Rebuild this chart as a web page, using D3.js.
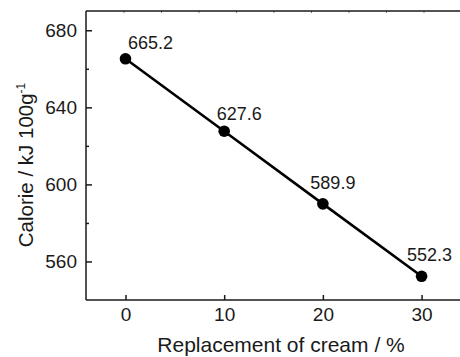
<!DOCTYPE html>
<html>
<head>
<meta charset="utf-8">
<script src="https://cdn.jsdelivr.net/npm/d3@7"></script>
<style>
  body { margin: 0; background: #fff; }
  text { font-family: "Liberation Sans", Arial, sans-serif; fill: #1a1a1a; }
</style>
</head>
<body>
<div id="chart"></div>
<script>
(function () {

  // data
  const replacement = [0, 10, 20, 30]
  const calorie = [665.2, 627.6, 589.9, 552.3]
  const xTicks = [0, 10, 20, 30]
  const yTicks = [560, 600, 640, 680]
  const yMinorTicks = [580, 620, 660]

  // label nudges (px) so the numbers sit like in the original
  const labelNudge = [[25, -10], [15, -11], [10, -15], [8, -15]]

  const width = 460
  const height = 357
  const plot = { left: 86, top: 11, bottom: 300 }

  const svg = d3.select("#chart").append("svg")
      .attr("width", width)
      .attr("height", height)

  const x = d3.scaleLinear()
    .domain([-4, 34])
    .range([plot.left, plot.left + 38 * 9.87])

  const y = d3.scaleLinear()
    .domain([540, 690])
    .range([plot.bottom, plot.top])

  // faint ticks along the top edge (frame is cut off on the right)
  const xTop = d3.scaleLinear().domain([0, 10]).range([plot.left, plot.left + 375])

  svg.append("g")
    .attr("transform", "translate(0," + plot.top + ")")
    .call(d3.axisTop(xTop).tickValues(d3.range(1, 10)).tickSize(-2).tickFormat(""))
    .call(g => g.select(".domain").remove())
    .call(g => g.selectAll("line").attr("stroke", "#777"))

  svg.append("line")
    .attr("x1", plot.left).attr("x2", width)
    .attr("y1", plot.top).attr("y2", plot.top)
    .attr("stroke", "#1a1a1a").attr("stroke-width", 1.5)

  // bottom axis, ticks pointing inward
  const xAxis = svg.append("g")
    .attr("transform", "translate(0," + plot.bottom + ")")
    .call(d3.axisBottom(x).tickValues(xTicks).tickSize(-5).tickPadding(8))
  xAxis.select(".domain").remove()
  xAxis.selectAll("line").attr("stroke", "#1a1a1a").attr("stroke-width", 1.5)
  xAxis.selectAll("text").style("font-size", "19px").attr("fill", "#1a1a1a")

  svg.append("line")
    .attr("x1", plot.left).attr("x2", width)
    .attr("y1", plot.bottom).attr("y2", plot.bottom)
    .attr("stroke", "#1a1a1a").attr("stroke-width", 1.5)

  // left axis
  const yAxis = svg.append("g")
    .attr("transform", "translate(" + plot.left + ",0)")
    .call(d3.axisLeft(y).tickValues(yTicks).tickSize(-6).tickPadding(9))
  yAxis.select(".domain").remove()
  yAxis.selectAll("line").attr("stroke", "#1a1a1a").attr("stroke-width", 1.5)
  yAxis.selectAll("text").style("font-size", "19px").attr("fill", "#1a1a1a")

  svg.append("g")
    .attr("transform", "translate(" + plot.left + ",0)")
    .call(d3.axisLeft(y).tickValues(yMinorTicks).tickSize(-3).tickFormat(""))
    .call(g => g.select(".domain").remove())
    .call(g => g.selectAll("line").attr("stroke", "#1a1a1a").attr("stroke-width", 1.5))

  svg.append("line")
    .attr("x1", plot.left).attr("x2", plot.left)
    .attr("y1", plot.top).attr("y2", plot.bottom)
    .attr("stroke", "#1a1a1a").attr("stroke-width", 1.5)

  // series
  const points = replacement.map((d, i) => ({ x: d, y: calorie[i] }))

  const line = d3.line()
    .x(d => x(d.x))
    .y(d => y(d.y))

  svg.append("path")
    .datum(points)
    .attr("d", line)
    .attr("fill", "none")
    .attr("stroke", "#000")
    .attr("stroke-width", 2.6)

  svg.selectAll("circle")
    .data(points)
    .join("circle")
    .attr("cx", d => x(d.x))
    .attr("cy", d => y(d.y))
    .attr("r", 5.8)
    .attr("fill", "#000")

  svg.selectAll(".val")
    .data(points)
    .join("text")
    .attr("class", "val")
    .attr("text-anchor", "middle")
    .attr("x", (d, i) => x(d.x) + labelNudge[i][0])
    .attr("y", (d, i) => y(d.y) + labelNudge[i][1])
    .style("font-size", "18px")
    .text(d => d3.format(".1f")(d.y))

  // axis titles
  svg.append("text")
    .attr("text-anchor", "middle")
    .attr("x", 281)
    .attr("y", 352)
    .style("font-size", "21px")
    .text("Replacement of cream / %")

  const yTitle = svg.append("text")
    .attr("text-anchor", "middle")
    .attr("transform", "translate(33,165) rotate(-90)")
    .style("font-size", "20.5px")
  yTitle.append("tspan").text("Calorie / kJ 100g")
  yTitle.append("tspan").attr("dy", -8).style("font-size", "12px").text("-1")

})();
</script>
</body>
</html>
